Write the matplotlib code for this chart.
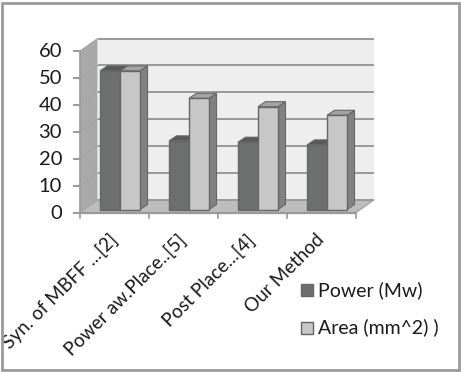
import matplotlib
matplotlib.use("Agg")
import matplotlib.pyplot as plt
from matplotlib.patches import Polygon, Rectangle

categories = ["Syn. of MBFF ...[2]", "Power aw.Place..[5]", "Post Place...[4]", "Our Method"]
power = [51.5, 25.5, 25, 24]
area = [51.5, 41.3, 38.2, 35]
series_names = ["Power (Mw)", "Area (mm^2) )"]
yticks = [0, 10, 20, 30, 40, 50, 60]

W, H = 461, 372
FONT = "Lato"
TXT = "#1a1a1a"
GRID = "#999999"
DARK, DARK_TOP, DARK_SIDE = "#6d6f6e", "#585a59", "#6d6f6e"
LIGHT, LIGHT_TOP, LIGHT_SIDE = "#c7c7c7", "#a3a3a3", "#808281"
EDGE = "#666666"

fig = plt.figure(figsize=(W / 100, H / 100), dpi=100, facecolor="white")
fig.add_artist(Rectangle((1.5 / W, 2 / H), (W - 3.5) / W, (H - 4.5) / H, transform=fig.transFigure,
                         fill=False, edgecolor="#9a9a9a", linewidth=2))

ax = fig.add_axes([80 / W, (H - 212.5) / H, 276 / W, 161.5 / H])
ax.set_xlim(0, 4)
ax.set_ylim(0, 60)
ax.axis("off")

px_x = 4 / 276
px_y = 60 / 161.5
DX, DY = 17.5 * px_x, 12.5 * px_y


def poly(pts, fc, ec="none", lw=0, z=1):
    ax.add_patch(Polygon(pts, closed=True, facecolor=fc, edgecolor=ec, linewidth=lw,
                         clip_on=False, zorder=z))


# back wall, side wall, floor
poly([(DX, DY), (4 + DX, DY), (4 + DX, 60 + DY), (DX, 60 + DY)], "#eeeeee", z=1)
poly([(0, 0), (DX, DY), (DX, 60 + DY), (0, 60)], "#a9a9a9", z=1)
poly([(0, 0), (4, 0), (4 + DX, DY), (DX, DY)], "#bdbdbd", z=1)

for v in yticks:
    ax.plot([DX, 4 + DX], [v + DY, v + DY], color=GRID, lw=1.4, clip_on=False, zorder=2,
            solid_capstyle="butt")
    if v > 0:
        ax.plot([0, DX], [v, v + DY], color="#a2a2a2", lw=0.7, clip_on=False, zorder=2)
    ax.plot([-6 * px_x, 0], [v, v], color=GRID, lw=1.4, clip_on=False, zorder=3)
    ax.text(-18 * px_x, v - 0.8 * px_y, str(v), ha="right", va="center", fontsize=14.5, color=TXT,
            family=FONT, clip_on=False)

ax.plot([0, 0], [0, 60], color=GRID, lw=1.2, clip_on=False, zorder=3)
ax.plot([0, 4], [0, 0], color=GRID, lw=1.6, clip_on=False, zorder=3, solid_capstyle="butt")
ax.plot([4, 4 + DX], [0, DY], color="#a5a5a5", lw=1, clip_on=False, zorder=3)
ax.plot([0, DX], [0, DY], color="#a5a5a5", lw=1, clip_on=False, zorder=3)
for i in range(5):
    ax.plot([i, i], [0, -5.5 * px_y], color=GRID, lw=1.2, clip_on=False, zorder=3)

# bars
BW = 20 / 69
BASE = 3 * px_y
DBX, DBY = 7.5 * px_x, 5 * px_y


def bar(x0, v, fc, top, side, z):
    y0, y1 = BASE, BASE + v
    poly([(x0 + BW, y0), (x0 + BW + DBX, y0 + DBY), (x0 + BW + DBX, y1 + DBY), (x0 + BW, y1)],
         side, EDGE, 0.8, z)
    poly([(x0, y1), (x0 + BW, y1), (x0 + BW + DBX, y1 + DBY), (x0 + DBX, y1 + DBY)],
         top, EDGE, 0.8, z)
    poly([(x0, y0), (x0 + BW, y0), (x0 + BW, y1), (x0, y1)], fc, EDGE, 1.0, z)


for i, (p, a) in enumerate(zip(power, area)):
    c = i + 0.58
    bar(c - BW, p, DARK, DARK_TOP, DARK_SIDE, 5 + i)
    bar(c, a, LIGHT, LIGHT_TOP, LIGHT_SIDE, 5.5 + i)

# category labels
for i, name in enumerate(categories):
    ax.annotate(name, xy=(i + 0.5, 0), xytext=(-4.5, -13.5), textcoords="offset points",
                rotation=45, rotation_mode="anchor", ha="right", va="top",
                fontsize=13.6, color=TXT, family=FONT, annotation_clip=False)

# legend
for name, fc, ypx in zip(series_names, [DARK, LIGHT], [290, 327.5]):
    fig.add_artist(Rectangle((300.5 / W, (H - ypx - 6) / H), 12 / W, 12 / H, transform=fig.transFigure,
                             facecolor=fc, edgecolor=EDGE, linewidth=1))
    fig.text(318 / W, (H - ypx) / H, name, ha="left", va="center", fontsize=14, color=TXT, family=FONT)

fig.savefig("out.png", dpi=100, facecolor="white")
